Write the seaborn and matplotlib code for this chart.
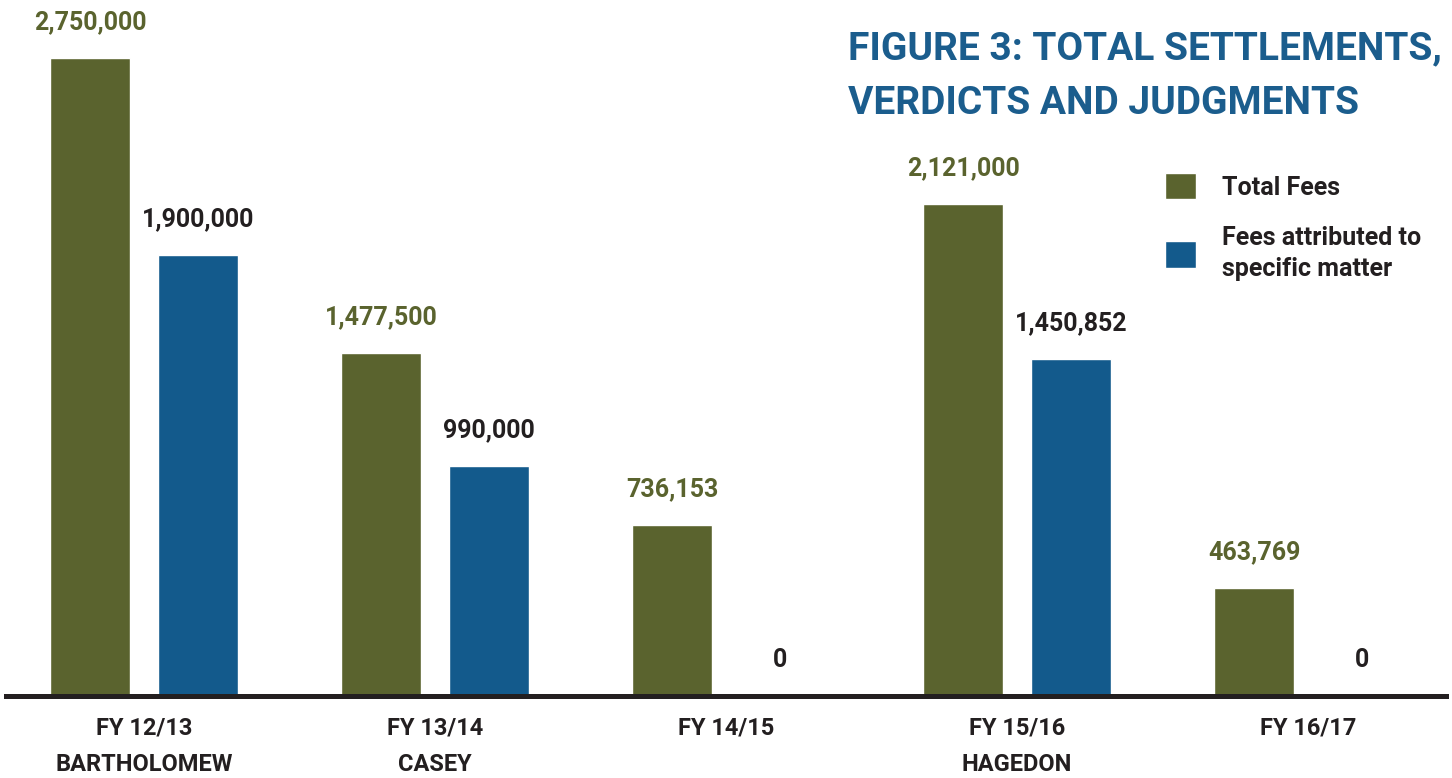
import matplotlib
matplotlib.use("Agg")
import matplotlib.pyplot as plt
import seaborn as sns
import pandas as pd

# values
years = ["FY 12/13\nBARTHOLOMEW", "FY 13/14\nCASEY", "FY 14/15",
         "FY 15/16\nHAGEDON", "FY 16/17"]
total_fees = [2750000, 1477500, 736153, 2121000, 463769]
matter_fees = [1900000, 990000, 0, 1450852, 0]
series = ["Total Fees", "Fees attributed to\nspecific matter"]

GREEN = "#5a632e"
BLUE = "#135a8c"
TITLE_BLUE = "#1b5d8d"
INK = "#231f20"

df = pd.DataFrame({
    "year": years * 2,
    "fees": total_fees + matter_fees,
    "series": [series[0]] * len(years) + [series[1]] * len(years),
})

sns.set_style("white")
plt.rcParams["font.family"] = ["Roboto", "DejaVu Sans"]

fig = plt.figure(figsize=(14.52, 7.78), dpi=100)
ax = fig.add_axes([6 / 1452, 1 - 695.5 / 778, 1440 / 1452, 695.5 / 778])

sns.barplot(data=df, x="year", y="fees", hue="series", hue_order=series,
            palette=[GREEN, BLUE], width=0.742, gap=0.26, saturation=1,
            ax=ax)

ax.set_xlim(-0.474, 4.474)
ax.set_ylim(0, 3.0e6)

# value labels: green over green bars, dark over blue bars
for cont, col in zip(ax.containers, [GREEN, INK]):
    ax.bar_label(cont, labels=[f"{v:,.0f}" for v in cont.datavalues],
                 padding=17, color=col, fontsize=18, fontweight="bold")

for s in ["left", "top", "right"]:
    ax.spines[s].set_visible(False)
ax.spines["bottom"].set_color(INK)
ax.spines["bottom"].set_linewidth(3.6)
ax.set_yticks([])
ax.set_xlabel("")
ax.set_ylabel("")
ax.tick_params(axis="x", length=0, pad=15)
for lbl in ax.get_xticklabels():
    lbl.set_fontsize(17)
    lbl.set_fontweight("bold")
    lbl.set_color(INK)
    lbl.set_linespacing(1.75)
    lbl.set_verticalalignment("top")

handles, labels = ax.get_legend_handles_labels()
leg = ax.legend(handles, labels, loc="upper left",
                bbox_to_anchor=(1165 / 1452, 1 - 173 / 778),
                bbox_transform=fig.transFigure, frameon=False,
                borderpad=0, borderaxespad=0, handlelength=1.25,
                handleheight=1.25, handletextpad=1.05, labelspacing=1.06,
                prop={"size": 18, "weight": "bold"}, labelcolor=INK)
for t in leg.get_texts():
    t.set_linespacing(1.34)

fig.text(848 / 1452, 1 - 30 / 778, "FIGURE 3: TOTAL SETTLEMENTS,\nVERDICTS AND JUDGMENTS",
         ha="left", va="top", color=TITLE_BLUE, fontsize=28, fontweight="bold",
         linespacing=1.62)

fig.savefig("out.png", dpi=100, facecolor="white")
